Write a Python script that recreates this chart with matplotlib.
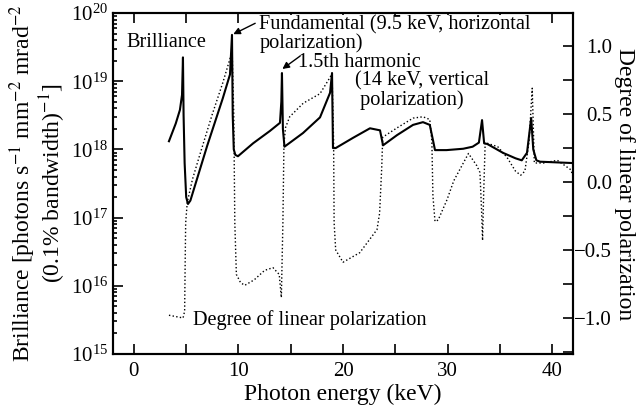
import numpy as np
import matplotlib
matplotlib.use('Agg')
import matplotlib.pyplot as plt
from matplotlib.ticker import MultipleLocator, LogLocator, NullFormatter

plt.rcParams['font.family'] = ['Liberation Serif', 'DejaVu Serif']
plt.rcParams['mathtext.fontset'] = 'stix'

# Brilliance curve (photon energy keV, log10 brilliance)
bri_e = [3.35, 4.0, 4.4, 4.6, 4.69, 4.75, 4.85, 5.0, 5.17, 5.4, 7.0, 8.5, 9.19, 9.38,
         9.45, 9.55, 9.7, 9.95, 11.4, 13.0, 13.97, 14.1, 14.16,
         14.25, 14.4, 16.17, 17.8, 18.76, 18.95,
         19.04, 19.3, 20.96, 22.58, 23.54, 23.83,
         25.17, 26.7, 27.65, 28.3, 28.6, 28.8,
         29.9, 31.5, 32.4, 33.0, 33.3, 33.5,
         33.8, 35.3, 36.5, 37.1, 37.6, 38.0, 38.2, 38.5, 38.85, 42.0]
bri_log = [18.12, 18.38, 18.58, 18.8, 19.35, 18.5, 17.8, 17.3, 17.2, 17.25, 18.05, 18.75, 19.1, 19.68,
           18.5, 18.0, 17.92, 17.9, 18.09, 18.27, 18.39, 18.7, 19.12,
           18.3, 18.04, 18.24, 18.47, 18.83, 19.12,
           18.02, 18.02, 18.17, 18.31, 18.28, 18.06,
           18.21, 18.36, 18.40, 18.36, 18.14, 17.99,
           17.99, 18.01, 18.04, 18.1, 18.43, 18.09,
           18.08, 17.95, 17.87, 17.84, 17.95, 18.46, 18.0, 17.84, 17.82, 17.80]

# Degree of linear polarization
pol_e = [3.35, 4.7, 4.85, 4.9, 4.95, 5.1, 5.6, 6.3, 7.5, 8.5, 9.2, 9.4,
         9.55, 9.65, 9.8, 10.2, 10.6, 11.5, 12.5, 13.3, 13.9, 14.1,
         14.25, 14.35, 14.5, 14.9, 16.2, 17.8, 18.76, 18.95,
         19.1, 19.15, 19.3, 20.0, 21.6, 23.25, 23.5, 23.7, 23.8,
         25.2, 26.7, 27.65, 28.3, 28.5, 28.6, 28.8, 29.1, 29.95, 30.6, 32.0,
         32.8, 33.1, 33.25, 33.35, 33.45, 33.6, 34.8, 35.7, 36.5, 37.0, 37.4,
         37.8, 38.1, 38.3, 39.2, 40.5, 41.8, 42.0]
pol_val = [-0.98, -1.0, -0.95, -0.6, -0.3, -0.15, 0.02, 0.2, 0.5, 0.73, 0.91, 0.95,
           0.5, -0.3, -0.68, -0.74, -0.76, -0.72, -0.65, -0.63, -0.68, -0.85,
           -0.3, 0.28, 0.4, 0.48, 0.58, 0.65, 0.77, 0.8,
           0.3, -0.3, -0.5, -0.59, -0.52, -0.35, -0.23, 0.1, 0.33,
           0.40, 0.47, 0.48, 0.46, 0.3, -0.1, -0.29, -0.28, -0.13, 0.01, 0.21,
           0.12, 0.07, -0.2, -0.43, -0.1, 0.29, 0.26, 0.18, 0.08, 0.05, 0.08,
           0.3, 0.69, 0.14, 0.14, 0.16, 0.09, 0.04]

fs = 15
tfs = 14.6
fig = plt.figure(figsize=(6.4, 4.08), dpi=100)
ax = fig.add_axes([0.1766, 0.1324, 0.7187, 0.8356])
ax.semilogy(bri_e, 10 ** np.array(bri_log), color='black', lw=1.5)
ax.set_xlim(-2, 42)
ax.set_ylim(1e15, 1e20)

ax2 = ax.twinx()
ax2.plot(pol_e, pol_val, color='black', lw=1.0, ls=':')
ax2.set_ylim(-1.265, 1.243)

ax.xaxis.set_major_locator(MultipleLocator(10))
ax.xaxis.set_minor_locator(MultipleLocator(5))
ax.yaxis.set_major_locator(LogLocator(base=10, numticks=10))
ax.yaxis.set_minor_locator(LogLocator(base=10, subs=np.arange(2, 10), numticks=20))
ax.yaxis.set_minor_formatter(NullFormatter())
ax.tick_params(which='both', direction='in', top=True, labelsize=fs, width=1.2)
ax.tick_params(which='major', length=7)
ax.tick_params(which='minor', axis='x', length=7)
ax.tick_params(which='minor', axis='y', length=3)
ax.tick_params(axis='x', pad=6)

ax2.yaxis.set_minor_locator(MultipleLocator(0.25))
ax2.set_yticks([-1.0, -0.5, 0.0, 0.5, 1.0])
ax2.set_yticklabels(['\u22121.0', '\u22120.5', '0.0', '0.5', '1.0'], ha='right')
ax2.tick_params(which='both', direction='in', labelsize=fs, length=7, width=1.2, pad=28)

for a in (ax, ax2):
    for s in a.spines.values():
        s.set_linewidth(1.5)

ax.set_xlabel('Photon energy (keV)', fontsize=17, labelpad=2)
ax.set_ylabel('Brilliance [photons s$^{-1}$ mm$^{-2}$ mrad$^{-2}$\n(0.1% bandwidth)$^{-1}$]',
              fontsize=17, linespacing=1.0, labelpad=2)
fig.text(625 / 640, 0.55, 'Degree of linear polarization', fontsize=17, rotation=270,
         ha='center', va='center')

arrow = dict(arrowstyle='-|>', color='black', lw=1.0, mutation_scale=10,
             shrinkA=0, shrinkB=0)

ax.text(3.06, 10 ** 19.57, 'Brilliance', fontsize=tfs, ha='center', va='center')
ax2.text(12.0, 10 ** 19.69, 'Fundamental (9.5 keV, horizontal\npolarization)', fontsize=tfs,
         ha='left', va='center', linespacing=0.9, transform=ax.transData,
         bbox=dict(facecolor='white', edgecolor='none', pad=0), zorder=5)
ax.annotate('', xy=(9.5, 10 ** 19.69), xytext=(11.6, 10 ** 19.85), arrowprops=arrow)
ax2.text(15.7, 10 ** 19.28, '1.5th harmonic', fontsize=tfs, ha='left', va='center',
         transform=ax.transData, zorder=6)
ax.annotate('', xy=(14.2, 10 ** 19.18), xytext=(15.9, 10 ** 19.37), arrowprops=arrow)
ax.text(21.15, 10 ** 18.86, '(14 keV, vertical\n polarization)', fontsize=tfs,
        ha='left', va='center', linespacing=0.95)
ax.text(5.65, 10 ** 15.5, 'Degree of linear polarization', fontsize=tfs, ha='left', va='center')

fig.savefig('out.png', dpi=100)
